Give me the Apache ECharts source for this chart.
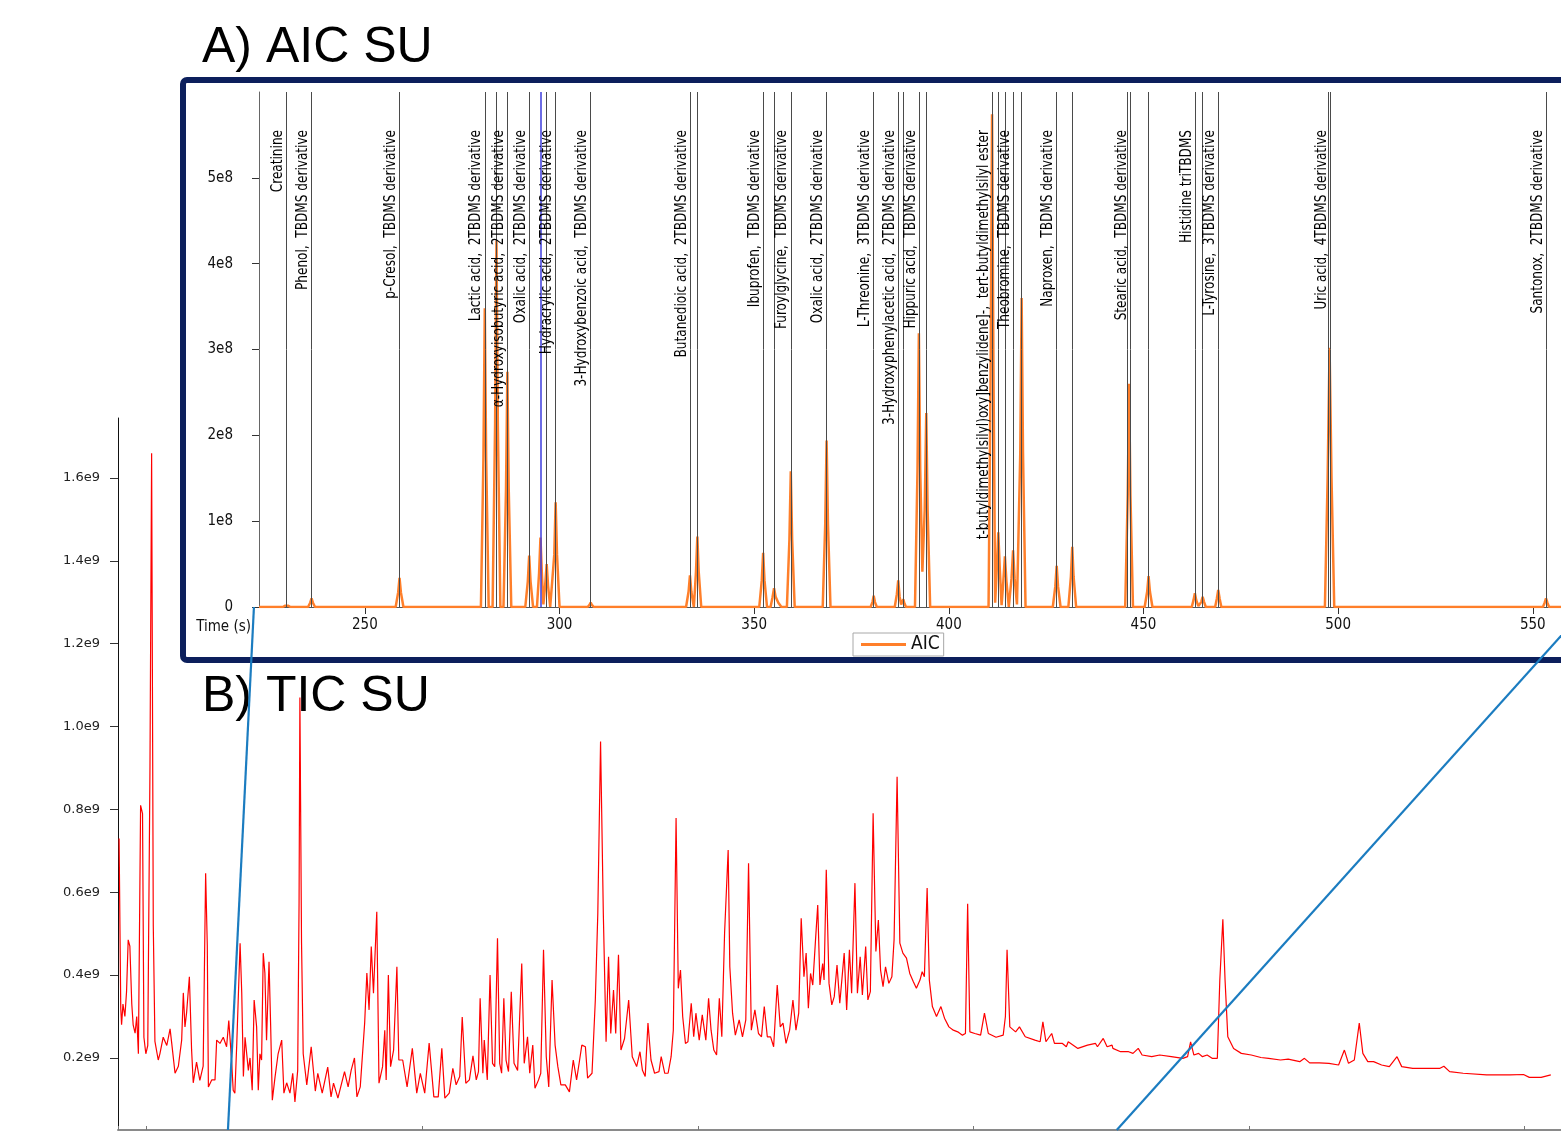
<!DOCTYPE html>
<html><head><meta charset="utf-8">
<script src="https://cdn.jsdelivr.net/npm/echarts@6/dist/echarts.min.js"></script>
<style>html,body{margin:0;padding:0;background:#fff}#c{width:1561px;height:1132px}</style>
</head><body><div id="c"></div>
<script>
// ---- A) AIC SU : trace points [time (s), intensity (x1e8)] ----
const aicTrace = [
[222.8,0],
[228.9,0],[229.55,0.015],[229.9,0.03],[230.25,0.015],[230.9,0],
[235.4,0],[235.95,0.05],[236.3,0.10],[236.65,0.05],[237.2,0],
[257.9,0],[258.55,0.17],[258.9,0.34],[259.25,0.17],[259.9,0],
[279.8,0],[280.45,1.74],[280.8,3.48],[281.15,1.74],[281.8,0],
[282.8,0],[283.45,2.14],[283.8,4.27],[284.15,2.14],[284.8,0],
[285.6,0],[286.25,1.37],[286.6,2.74],[286.95,1.37],[287.6,0],
[291.2,0],[291.85,0.30],[292.2,0.60],[292.55,0.30],[293.2,0],
[294.2,0],[294.75,0.40],[295.1,0.81],[295.45,0.40],[295.85,0.03],
[296.3,0.25],[296.7,0.50],[297.05,0.25],[297.6,0],
[298.0,0],[298.65,0.61],[299.0,1.22],[299.35,0.61],[300.0,0],
[307.2,0],[307.7,0.025],[308.0,0.05],[308.3,0.025],[308.8,0],
[332.5,0],[333.15,0.18],[333.5,0.37],[333.85,0.18],[334.5,0],
[335.05,0.41],[335.4,0.82],[335.75,0.41],[336.4,0],
[351.3,0],[351.95,0.31],[352.3,0.63],[352.65,0.31],[353.3,0],
[354.2,0],[354.7,0.11],[355.1,0.22],[355.5,0.12],[356.2,0.05],[357.0,0],
[358.4,0],[359.05,0.79],[359.4,1.58],[359.75,0.79],[360.4,0],
[367.6,0],[368.25,0.97],[368.6,1.94],[368.95,0.97],[369.6,0],
[379.9,0],[380.4,0.06],[380.7,0.13],[381.0,0.06],[381.5,0],
[386.1,0],[386.65,0.15],[387.0,0.31],[387.35,0.12],[387.75,0.03],
[388.0,0.05],[388.3,0.09],[388.6,0.04],[389.0,0],
[391.3,0],[391.95,1.6],[392.3,3.19],[392.65,1.6],[393.2,0.41],[393.8,1.13],[394.2,2.26],[394.55,1.13],[395.2,0],
[410.2,0],[410.75,2.87],[411.1,5.74],[411.45,2.87],[411.9,0.05],
[412.3,0.43],[412.7,0.87],[413.1,0.43],[413.55,0.02],
[414.0,0.3],[414.4,0.59],[414.8,0.3],[415.4,0],
[416.1,0.33],[416.5,0.66],[416.9,0.33],[417.5,0.03],
[418.35,1.8],[418.7,3.6],[419.05,1.8],[419.7,0],
[426.7,0],[427.35,0.24],[427.7,0.48],[428.05,0.24],[428.7,0],
[430.7,0],[431.35,0.35],[431.7,0.70],[432.05,0.35],[432.7,0],
[445.3,0],[445.95,1.3],[446.3,2.6],[446.65,1.3],[447.3,0],
[450.3,0],[450.95,0.18],[451.3,0.36],[451.65,0.18],[452.3,0],
[462.4,0],[462.85,0.08],[463.2,0.16],[463.55,0.08],[464.1,0.01],
[464.4,0.02],[464.85,0.06],[465.2,0.12],[465.55,0.06],[466.0,0],
[468.4,0],[468.85,0.10],[469.2,0.20],[469.55,0.10],[470.0,0],
[496.6,0],[497.3,1.5],[497.8,3.02],[498.3,1.5],[499.0,0],
[552.6,0],[553.05,0.05],[553.4,0.10],[553.75,0.05],[554.2,0],
[563.9,0]
];

// ---- identified compounds (marker lines with labels) ----
const compoundTimes = [229.9,236.3,258.9,280.8,286.6,292.2,299.0,308.0,333.5,352.3,359.4,368.6,380.7,387.0,392.3,411.1,416.5,427.7,446.6,463.2,469.2,498.0,553.4];
const compoundNames = [
 'Creatinine',
 'Phenol,  TBDMS derivative',
 'p-Cresol,  TBDMS derivative',
 'Lactic acid,  2TBDMS derivative',
 'α-Hydroxyisobutyric acid,  2TBDMS derivative',
 'Oxalic acid,  2TBDMS derivative',
 'Hydracrylic acid,  2TBDMS derivative',
 '3-Hydroxybenzoic acid,  TBDMS derivative',
 'Butanedioic acid,  2TBDMS derivative',
 'Ibuprofen,  TBDMS derivative',
 'Furoylglycine,  TBDMS derivative',
 'Oxalic acid,  2TBDMS derivative',
 'L-Threonine,  3TBDMS derivative',
 '3-Hydroxyphenylacetic acid,  2TBDMS derivative',
 'Hippuric acid,  TBDMS derivative',
 't-butyldimethylsilyl)oxy]benzylidene]-,  tert-butyldimethylsilyl ester',
 'Theobromine,  TBDMS derivative',
 'Naproxen,  TBDMS derivative',
 'Stearic acid,  TBDMS derivative',
 'Histidine triTBDMS',
 'L-Tyrosine,  3TBDMS derivative',
 'Uric acid,  4TBDMS derivative',
 'Santonox,  2TBDMS derivative'
];
const extraLineTimes = [283.8,296.7,335.4,355.1,388.3,394.3,412.7,414.4,418.7,431.7,445.9,451.3,465.2,497.4];
const cursorTime = 295.2;

// ---- B) TIC SU : trace points [time (s), intensity (x1e9)] ----
const ticTrace = [
[190.0,0.73],[190.3,0.52],[190.6,0.32],[190.9,0.28],[191.4,0.33],[192.1,0.30],[192.7,0.36],[193.3,0.485],[193.9,0.47],[194.6,0.33],[195.1,0.28],[195.8,0.26],[196.4,0.30],[197.0,0.21],[197.8,0.81],[198.5,0.79],[199.0,0.25],[199.7,0.21],[200.4,0.23],[201.2,0.9],[201.8,1.66],[202.4,0.52],[203.0,0.24],[204.2,0.195],[204.8,0.21],[206.0,0.25],[207.3,0.23],[208.5,0.27],[209.1,0.235],[210.3,0.163],[211.5,0.18],[212.7,0.243],[213.3,0.357],[213.9,0.275],[214.5,0.31],[215.5,0.396],[216.3,0.22],[216.9,0.14],[218.1,0.19],[219.3,0.146],[220.5,0.18],[221.4,0.646],[222.0,0.47],[222.4,0.13],[223.6,0.147],[224.8,0.147],[225.4,0.243],[226.6,0.235],[227.8,0.25],[229.0,0.227],[229.8,0.29],[230.8,0.195],[231.4,0.122],[232.0,0.115],[232.7,0.235],[233.9,0.477],[234.5,0.357],[235.1,0.155],[235.7,0.25],[236.9,0.17],[237.5,0.2],[238.3,0.122],[239.0,0.34],[239.9,0.275],[240.5,0.122],[241.1,0.21],[241.7,0.195],[242.3,0.453],[242.9,0.405],[243.5,0.243],[244.4,0.432],[245.0,0.275],[245.6,0.098],[246.6,0.155],[247.7,0.21],[249.0,0.243],[249.8,0.115],[250.8,0.14],[252.0,0.115],[253.0,0.163],[253.8,0.094],[254.8,0.17],[255.3,0.574],[255.6,1.07],[256.2,0.477],[256.8,0.21],[258.1,0.135],[259.7,0.227],[261.2,0.12],[262.1,0.163],[263.7,0.115],[265.7,0.178],[266.9,0.106],[267.8,0.139],[269.4,0.103],[271.8,0.167],[273.1,0.13],[274.2,0.17],[275.4,0.2],[276.3,0.106],[277.5,0.13],[279.1,0.284],[279.9,0.405],[280.7,0.316],[281.5,0.469],[282.3,0.356],[283.5,0.553],[284.3,0.139],[285.6,0.179],[286.4,0.267],[286.9,0.147],[287.7,0.4],[288.5,0.179],[289.6,0.219],[290.8,0.42],[291.5,0.195],[292.9,0.195],[294.5,0.13],[296.4,0.223],[298.0,0.115],[299.3,0.163],[300.9,0.115],[302.5,0.236],[304.2,0.106],[305.8,0.106],[307.1,0.223],[308.2,0.103],[309.8,0.115],[311.1,0.175],[312.3,0.135],[313.6,0.155],[314.5,0.299],[315.8,0.139],[317.1,0.147],[318.4,0.205],[319.6,0.147],[320.4,0.167],[321.0,0.344],[322.0,0.163],[322.5,0.243],[323.6,0.147],[324.6,0.4],[325.5,0.187],[326.3,0.179],[327.3,0.489],[328.1,0.187],[328.8,0.163],[329.6,0.344],[330.4,0.195],[331.3,0.167],[332.3,0.36],[333.3,0.187],[334.6,0.17],[336.1,0.428],[337.0,0.187],[338.2,0.251],[339.0,0.163],[340.1,0.231],[340.9,0.127],[342.2,0.147],[343.0,0.163],[344.0,0.461],[345.0,0.203],[345.9,0.13],[347.1,0.388],[348.2,0.231],[349.2,0.179],[350.3,0.135],[351.9,0.135],[353.4,0.118],[354.8,0.195],[356.0,0.147],[357.1,0.195],[357.9,0.231],[359.2,0.227],[360.0,0.151],[361.6,0.163],[362.8,0.34],[363.7,0.549],[364.7,0.964],[365.7,0.549],[366.7,0.239],[367.6,0.444],[368.4,0.259],[369.4,0.364],[370.2,0.259],[371.2,0.449],[372.1,0.219],[373.4,0.247],[374.9,0.34],[376.2,0.203],[377.8,0.179],[379.0,0.215],[379.9,0.17],[380.9,0.155],[381.9,0.284],[383.0,0.195],[384.3,0.163],[385.9,0.167],[386.7,0.203],[388.0,0.163],[389.2,0.163],[390.3,0.203],[391.1,0.267],[392.1,0.779],[392.9,0.368],[393.7,0.412],[394.5,0.3],[395.5,0.235],[396.4,0.239],[397.6,0.332],[398.5,0.251],[399.3,0.308],[400.5,0.243],[401.6,0.304],[402.9,0.243],[403.9,0.344],[404.8,0.267],[405.8,0.219],[406.8,0.207],[407.8,0.344],[408.7,0.251],[409.7,0.501],[411.0,0.702],[411.6,0.42],[412.6,0.308],[413.6,0.255],[415.0,0.292],[416.2,0.251],[417.4,0.292],[418.4,0.67],[419.4,0.267],[420.7,0.316],[422.0,0.259],[423.1,0.251],[424.1,0.324],[425.2,0.251],[426.4,0.251],[427.5,0.227],[428.8,0.376],[429.9,0.275],[430.9,0.284],[432.0,0.235],[433.3,0.267],[434.5,0.34],[435.6,0.267],[436.6,0.308],[437.5,0.537],[438.5,0.396],[439.3,0.453],[440.1,0.32],[440.9,0.404],[441.7,0.376],[442.7,0.485],[443.5,0.569],[444.3,0.376],[445.3,0.428],[445.8,0.388],[446.6,0.654],[447.6,0.38],[448.6,0.328],[449.5,0.348],[450.5,0.424],[451.5,0.332],[452.3,0.392],[453.1,0.453],[454.0,0.316],[455.0,0.461],[455.8,0.356],[457.0,0.622],[457.9,0.356],[458.9,0.444],[459.7,0.352],[460.9,0.469],[461.7,0.34],[462.6,0.36],[463.6,0.791],[464.6,0.457],[465.5,0.533],[466.3,0.412],[467.2,0.372],[468.1,0.42],[469.3,0.38],[470.4,0.396],[471.2,0.485],[472.3,0.879],[473.3,0.477],[474.4,0.453],[475.7,0.441],[476.9,0.404],[478.2,0.384],[479.3,0.368],[480.6,0.388],[481.4,0.408],[482.2,0.396],[483.2,0.61],[484.0,0.388],[485.1,0.324],[486.6,0.3],[488.2,0.324],[489.5,0.296],[491.1,0.275],[492.7,0.267],[494.3,0.263],[496.0,0.255],[497.1,0.259],[497.9,0.572],[498.7,0.263],[500.5,0.259],[502.6,0.255],[504.0,0.308],[505.4,0.259],[508.2,0.25],[510.8,0.255],[511.6,0.3],[512.2,0.461],[513.2,0.275],[515.3,0.263],[516.7,0.275],[518.8,0.251],[522.3,0.243],[524.2,0.239],[525.2,0.287],[526.3,0.239],[528.4,0.259],[529.4,0.235],[532.3,0.235],[533.7,0.227],[534.4,0.239],[537.9,0.223],[541.4,0.231],[542.1,0.227],[544.3,0.235],[545.0,0.227],[547.1,0.247],[548.5,0.227],[550.3,0.231],[550.6,0.223],[553.4,0.215],[556.3,0.215],[557.9,0.211],[559.8,0.223],[561.2,0.207],[564.7,0.203],[567.6,0.207],[571.8,0.203],[576.0,0.199],[577.7,0.203],[578.8,0.239],[580.0,0.207],[581.7,0.211],[583.1,0.203],[584.8,0.207],[586.6,0.199],[588.5,0.199],[589.4,0.388],[590.5,0.535],[591.3,0.388],[592.3,0.251],[594.4,0.223],[597.2,0.211],[600.8,0.207],[604.3,0.201],[607.1,0.199],[611.4,0.195],[614.2,0.197],[618.4,0.191],[620.1,0.199],[622.0,0.188],[625.5,0.188],[629.0,0.187],[632.5,0.183],[634.6,0.219],[636.1,0.187],[638.2,0.195],[640.0,0.284],[641.3,0.211],[643.1,0.191],[645.2,0.191],[648.1,0.183],[650.9,0.179],[653.7,0.203],[655.4,0.179],[659.4,0.175],[665.0,0.175],[669.3,0.175],[670.7,0.18],[672.8,0.167],[677.7,0.163],[686.2,0.159],[694.7,0.159],[699.6,0.16],[701.7,0.153],[706.0,0.153],[709.5,0.159]
];

// zoom-window connectors: top chart times -> bottom chart times
const zoomTopTimes = [221.5, 563.9];
const zoomBottomTimes = [229.5, 552.0];

function hasFont(name){
  const c=document.createElement('canvas').getContext('2d');
  const s='mmmmmwwwwwiiiiillllAbCdEf0123';
  c.font='32px monospace'; const a=c.measureText(s).width;
  c.font="32px '"+name+"', monospace"; return Math.abs(c.measureText(s).width-a)>0.5;
}
let NARROW, AXS, LBS, LBSCALE;
if (hasFont('Liberation Sans Narrow')) { NARROW="'Liberation Sans Narrow'"; AXS=16; LBS=16; LBSCALE=1; }
else if (hasFont('DejaVu Sans Condensed')) { NARROW="'DejaVu Sans Condensed'"; AXS=15; LBS=16; LBSCALE=0.84; }
else { NARROW="'Liberation Sans', Arial"; AXS=15; LBS=16; LBSCALE=0.82; }

const topXMin=222.8, topXMax=563.9, pxPerSec=3.893;
const botYMin=0.026e9, botYMax=1.745e9;

const markLineData = [];
compoundTimes.forEach(t=>markLineData.push({xAxis:t}));
extraLineTimes.forEach(t=>markLineData.push({xAxis:t}));
markLineData.push({xAxis:cursorTime, lineStyle:{color:'#3c3cdc', width:1.5}});

const chart = echarts.init(document.getElementById('c'));
chart.setOption({
  animation:false,
  backgroundColor:'#fff',
  grid:[
    {left:259, top:92, width:(topXMax-topXMin)*pxPerSec, height:515, outerBoundsMode:'none', containLabel:false},
    {left:118, top:418, width:1443, height:712, outerBoundsMode:'none', containLabel:false}
  ],
  legend:{
    data:[{name:'AIC', icon:'rect'}], left:853, top:633, itemWidth:45, itemHeight:3, itemGap:4,
    padding:[2,4,2,8], borderColor:'#a8a8a8', borderWidth:1, backgroundColor:'#fff',
    textStyle:{fontFamily:NARROW, fontSize:AXS+4, color:'#111'}
  },
  xAxis:[
    {gridIndex:0, type:'value', min:topXMin, max:topXMax, splitNumber:7,
     axisLine:{show:true, lineStyle:{color:'#555', width:1}},
     axisTick:{show:true, length:7, lineStyle:{color:'#333'}},
     axisLabel:{margin:11, fontFamily:NARROW, fontSize:AXS, color:'#111', showMinLabel:false, showMaxLabel:false},
     splitLine:{show:false}},
    {gridIndex:1, type:'value', min:189.6, max:713.2, splitNumber:5,
     axisLine:{show:true, lineStyle:{color:'#8a8a8a', width:2}},
     axisTick:{show:true, inside:true, length:4, lineStyle:{color:'#777'}},
     axisLabel:{show:false}, splitLine:{show:false}}
  ],
  yAxis:[
    {gridIndex:0, type:'value', min:0, max:6e8, interval:1e8,
     axisLine:{show:true, lineStyle:{color:'#666', width:1}},
     axisTick:{show:true, length:7, lineStyle:{color:'#333'}},
     axisLabel:{margin:26, fontFamily:NARROW, fontSize:AXS, color:'#111', showMaxLabel:false,
       formatter:v=> v===0 ? '0' : Math.round(v/1e8)+'e8'},
     splitLine:{show:false}},
    {gridIndex:1, type:'value', min:botYMin, max:botYMax, splitNumber:8,
     axisLine:{show:true, lineStyle:{color:'#111', width:1}},
     axisTick:{show:true, length:8, lineStyle:{color:'#333'}},
     axisLabel:{margin:18, fontFamily:"'DejaVu Sans', sans-serif", fontSize:13, color:'#222',
       showMinLabel:false, showMaxLabel:false, formatter:v=>(v/1e9).toFixed(1)+'e9'},
     splitLine:{show:false}}
  ],
  series:[
    {name:'TIC', type:'line', xAxisIndex:1, yAxisIndex:1, symbol:'none', z:2,
     data:ticTrace.map(p=>[p[0], p[1]*1e9]),
     lineStyle:{color:'#ff0000', width:1.2}, itemStyle:{color:'#ff0000'}},
    {name:'AIC', type:'line', xAxisIndex:0, yAxisIndex:0, symbol:'none', showSymbol:false, z:3,
     data:aicTrace.map(p=>[p[0], p[1]*1e8]),
     lineStyle:{color:'#ff7f2a', width:2.5}, itemStyle:{color:'#ff7f2a'}},
    {name:'markers', type:'line', xAxisIndex:0, yAxisIndex:0, symbol:'none', z:5,
     data:[], silent:true,
     markLine:{symbol:['none','none'], silent:true, animation:false,
       lineStyle:{color:'#4a4a4a', width:1, type:'solid'},
       label:{show:false}, emphasis:{disabled:true},
       data:markLineData}}
  ]
});

function px(idx, pt){ return chart.convertToPixel({xAxisIndex:idx, yAxisIndex:idx}, pt); }
const tl=px(0,[zoomTopTimes[0],0]), tr=px(0,[zoomTopTimes[1],0]);
const bl=px(1,[zoomBottomTimes[0],botYMin]), br=px(1,[zoomBottomTimes[1],botYMin]);

const els = [
  {type:'text', left:202, top:23, z:50, style:{text:'A) AIC SU', fontFamily:"'Liberation Sans', Arial, sans-serif", fontSize:50, fill:'#000'}},
  {type:'text', left:202, top:672, z:50, style:{text:'B) TIC SU', fontFamily:"'Liberation Sans', Arial, sans-serif", fontSize:50, fill:'#000'}},
  {type:'text', x:251, y:627, z:50, style:{text:'Time (s)', align:'right', verticalAlign:'middle', fontFamily:NARROW, fontSize:AXS, fill:'#111'}},
  {type:'rect', z:100, shape:{x:183, y:80, width:1600, height:580, r:4}, style:{fill:null, stroke:'#0c1f5c', lineWidth:6}},
  {type:'line', z:200, shape:{x1:tl[0], y1:tl[1], x2:bl[0], y2:bl[1]}, style:{stroke:'#1b7cc0', lineWidth:2.2}},
  {type:'line', z:200, shape:{x1:tr[0], y1:tr[1], x2:br[0], y2:br[1]}, style:{stroke:'#1b7cc0', lineWidth:2.2}}
];
// compound labels: rotated text placed beside each marker line (position from the axis scale)
compoundTimes.forEach((t,i)=>{
  const p = px(0,[t, 6e8]);
  els.push({type:'text', x:p[0]-0.5, y:p[1]+38, rotation:Math.PI/2, scaleX:LBSCALE, z:40, silent:true,
    style:{text:compoundNames[i], align:'right', verticalAlign:'bottom', fontFamily:NARROW, fontSize:LBS, fill:'#000'}});
});
chart.setOption({graphic:{elements:els}});
</script>
</body></html>
